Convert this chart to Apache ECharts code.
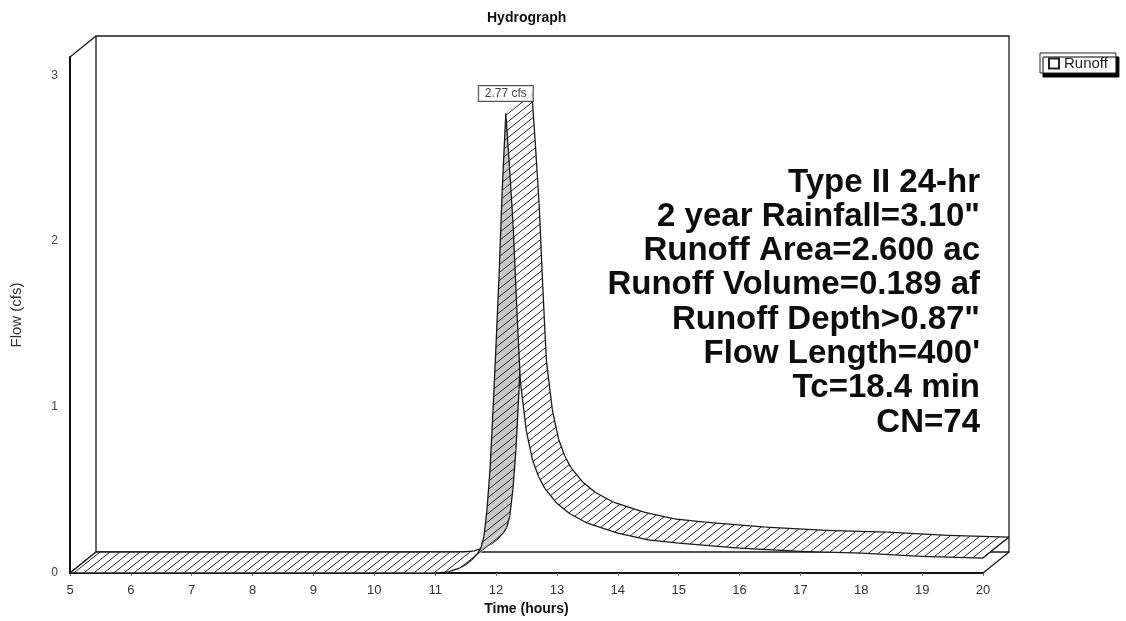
<!DOCTYPE html>
<html>
<head>
<meta charset="utf-8">
<script src="https://cdn.jsdelivr.net/npm/echarts@6/dist/echarts.min.js"></script>
<style>
html,body{margin:0;padding:0;background:#fff;}
#chart{width:1126px;height:621px;}
</style>
</head>
<body>
<div id="chart"></div>
<script>
// ---- data ----
const times = [5, 10.5, 11.0, 11.2, 11.4, 11.5, 11.6, 11.7, 11.75, 11.8,
               11.85, 11.9, 11.95, 12.0, 12.05, 12.1, 12.16, 12.22, 12.28, 12.34,
               12.4, 12.5, 12.6, 12.7, 12.8, 13.0, 13.2, 13.5, 14.0, 14.5,
               15.0, 16.0, 17.0, 18.0, 19.0, 20.0];
const flows = [0, 0, 0, 0.005, 0.03, 0.05, 0.08, 0.12, 0.15, 0.22,
               0.38, 0.62, 0.98, 1.38, 1.8, 2.3, 2.77, 2.45, 2.1, 1.6,
               1.15, 0.85, 0.68, 0.58, 0.51, 0.42, 0.36, 0.30, 0.24, 0.20,
               0.18, 0.15, 0.13, 0.12, 0.10, 0.09];
const xRange = [5, 20];
const yRange = [0, 3.11];
const yTicks = [0, 1, 2, 3];
const seriesName = 'Runoff';
const peakUnit = 'cfs';
const titleText = 'Hydrograph';
const xName = 'Time (hours)';
const yName = 'Flow (cfs)';
const infoLines = ['Type II 24-hr', '2 year Rainfall=3.10"', 'Runoff Area=2.600 ac',
                   'Runoff Volume=0.189 af', 'Runoff Depth>0.87"', "Flow Length=400'",
                   'Tc=18.4 min', 'CN=74'];

// ---- style ----
const FONT = '"Liberation Sans", Arial, Helvetica, sans-serif';
const DX = 26, DY = -21;   // 3D depth offset in pixels
const EDGE = '#1a1a1a';

function makeHatch(bg) {
  const c = document.createElement('canvas');
  c.width = 10; c.height = 8;
  const g = c.getContext('2d');
  g.fillStyle = bg; g.fillRect(0, 0, 10, 8);
  g.strokeStyle = '#2a2a2a'; g.lineWidth = 1;
  g.beginPath();
  for (let k = 0; k <= 2; k++) { g.moveTo(-10, 8 * k + 8); g.lineTo(20, 8 * k - 16); }
  g.stroke();
  return c;
}
const hatchWhite = makeHatch('#ffffff');
const hatchGray = makeHatch('#c9c9c9');

const ribbonData = times.map((t, i) => [t, flows[i]]);
const peakIdx = flows.indexOf(Math.max.apply(null, flows));

function renderRibbon(params, api) {
  const i = params.dataIndex;
  if (i >= times.length - 1) return null;
  const f0 = api.coord([times[i], flows[i]]);
  const f1 = api.coord([times[i + 1], flows[i + 1]]);
  const b0 = [f0[0] + DX, f0[1] + DY];
  const b1 = [f1[0] + DX, f1[1] + DY];
  const sx = f1[0] - f0[0], sy = f1[1] - f0[1];
  const under = (sx * DY - sy * DX) > 0;
  const children = [
    { type: 'polygon', shape: { points: [f0, f1, b1, b0] },
      style: { fill: { image: under ? hatchGray : hatchWhite, repeat: 'repeat' }, stroke: null } },
    { type: 'polyline', shape: { points: [f0, f1] }, style: { stroke: EDGE, lineWidth: 1.3, fill: null } },
    { type: 'polyline', shape: { points: [b0, b1] }, style: { stroke: EDGE, lineWidth: 1.3, fill: null } }
  ];
  if (i === 0) children.push({ type: 'line', shape: { x1: f0[0], y1: f0[1], x2: b0[0], y2: b0[1] }, style: { stroke: EDGE, lineWidth: 1.2 } });
  if (i === times.length - 2) children.push({ type: 'line', shape: { x1: f1[0], y1: f1[1], x2: b1[0], y2: b1[1] }, style: { stroke: EDGE, lineWidth: 1.2 } });
  return { type: 'group', children: children };
}

function renderFrame(params, api) {
  const bl = api.coord([xRange[0], yRange[0]]);
  const tl = api.coord([xRange[0], yRange[1]]);
  const br = api.coord([xRange[1], yRange[0]]);
  const sh = p => [p[0] + DX, p[1] + DY];
  const tl2 = sh(tl), bl2 = sh(bl), br2 = sh(br);
  const tr2 = [br2[0], tl2[1]];
  const st = { stroke: EDGE, lineWidth: 1.3, fill: null };
  return { type: 'group', children: [
    { type: 'polygon', shape: { points: [tl2, tr2, br2, bl2] }, style: st },
    { type: 'line', shape: { x1: tl[0], y1: tl[1], x2: tl2[0], y2: tl2[1] }, style: st },
    { type: 'line', shape: { x1: bl[0], y1: bl[1], x2: bl2[0], y2: bl2[1] }, style: st },
    { type: 'line', shape: { x1: br[0], y1: br[1], x2: br2[0], y2: br2[1] }, style: st }
  ]};
}

const infoGraphics = infoLines.map((line, k) => ({
  type: 'text', right: 146, top: 166 + k * 34.3, z: 10,
  style: { text: line, fontSize: 33, fontWeight: 'bold', fontFamily: FONT, fill: '#0d0d0d' }
}));

const chart = echarts.init(document.getElementById('chart'), null, { renderer: 'canvas' });
chart.setOption({
  animation: false,
  backgroundColor: '#fff',
  textStyle: { fontFamily: FONT },
  title: { text: titleText, left: 482, top: 6,
           textStyle: { fontSize: 14, fontWeight: 'bold', color: '#111', fontFamily: FONT } },
  legend: {
    left: 1040, top: 53, data: [{ name: seriesName, icon: 'rect' }],
    itemWidth: 10, itemHeight: 10, padding: [3, 8, 2, 8],
    borderColor: '#222', borderWidth: 1, backgroundColor: '#fff',
    shadowColor: '#000', shadowOffsetX: 3, shadowOffsetY: 4, shadowBlur: 0,
    textStyle: { fontSize: 15, color: '#222', fontFamily: FONT },
    selectedMode: false
  },
  grid: { left: 70, right: 143, top: 57, bottom: 48 },
  xAxis: {
    type: 'value', min: xRange[0], max: xRange[1], interval: 1,
    axisLine: { show: true, lineStyle: { color: '#111', width: 2 } },
    axisTick: { show: true, length: 3, lineStyle: { color: '#777' } },
    axisLabel: { margin: 11, fontSize: 13, color: '#333' },
    splitLine: { show: false },
    name: xName, nameLocation: 'middle', nameGap: 28,
    nameTextStyle: { fontSize: 14, fontWeight: 'bold', color: '#111' }
  },
  yAxis: {
    type: 'value', min: yRange[0], max: yRange[1], interval: 1,
    axisLine: { show: true, lineStyle: { color: '#111', width: 2 } },
    axisTick: { show: false },
    axisLabel: { margin: 12, fontSize: 12, color: '#444', showMaxLabel: false,
                 formatter: v => (yTicks.indexOf(v) >= 0 ? String(v) : '') },
    splitLine: { show: false },
    name: yName, nameLocation: 'middle', nameGap: 46,
    nameTextStyle: { fontSize: 15, color: '#333' }
  },
  series: [
    { type: 'custom', name: 'frame', renderItem: renderFrame, data: [[xRange[0], yRange[0]]],
      silent: true, z: 1, clip: false },
    { type: 'custom', name: seriesName, renderItem: renderRibbon, data: ribbonData,
      encode: { x: 0, y: 1 }, z: 3, clip: false, silent: true,
      itemStyle: { color: '#fff', borderColor: '#222', borderWidth: 1 } },
    { type: 'scatter', name: 'peak', data: [[times[peakIdx], flows[peakIdx]]], symbolSize: 1,
      itemStyle: { color: 'rgba(0,0,0,0)' }, z: 5, silent: true,
      label: { show: true, position: 'top', distance: 12,
               formatter: p => p.value[1].toFixed(2) + ' ' + peakUnit,
               backgroundColor: '#fff', borderColor: '#222', borderWidth: 1,
               padding: [2, 6, 1, 6], fontSize: 12, color: '#111', fontFamily: FONT } }
  ],
  graphic: infoGraphics
});
</script>
</body>
</html>
